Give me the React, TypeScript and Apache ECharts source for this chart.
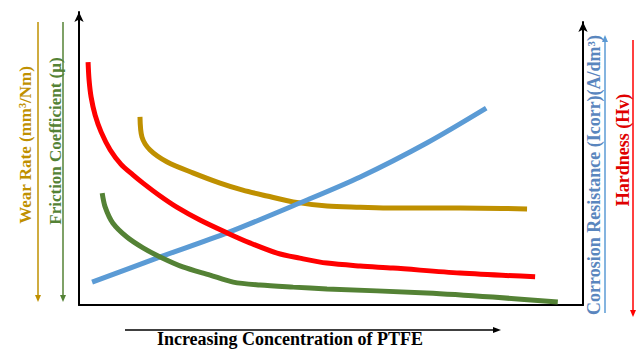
import React, { useEffect, useRef } from "react";
import * as echarts from "echarts";

// Schematic trends (relative units, x = PTFE concentration 0-100, y = property level 0-100)
const hardness: number[][] = [
  [1.8, 82.9], [2.0, 76.8], [2.4, 71.0], [3.2, 64.8], [4.4, 59.0], [6.2, 52.9],
  [8.3, 48.1], [10.7, 44.4], [12.7, 41.6], [16.1, 37.2], [19.4, 33.4], [24.0, 29.0],
  [29.4, 24.6], [33.9, 21.2], [39.3, 17.7], [43.8, 16.0], [49.2, 14.3], [55.8, 13.3],
  [62.3, 12.6], [75.6, 10.9], [90.5, 9.6],
];
const wearRate: number[][] = [
  [12.1, 64.2], [12.5, 57.3], [14.1, 52.9], [17.5, 48.8], [22.6, 45.1], [28.0, 41.6],
  [32.5, 39.2], [37.3, 37.2], [42.5, 35.2], [49.2, 33.8], [55.8, 33.4], [62.3, 33.1],
  [75.6, 33.1], [88.9, 32.8],
];
const friction: number[][] = [
  [4.6, 38.2], [5.2, 33.4], [6.7, 28.0], [9.5, 23.2], [12.7, 19.5], [16.1, 16.4],
  [20.6, 13.0], [26.0, 10.2], [30.6, 7.8], [35.9, 6.8], [42.5, 6.1], [49.2, 5.5],
  [69.0, 4.1], [82.1, 2.7], [95.0, 1.0],
];
const corrosion: number[][] = [
  [2.6, 7.8], [16.1, 16.4], [29.4, 24.6], [43.8, 34.8], [55.8, 43.7],
  [69.0, 55.3], [80.8, 67.2],
];

const labels = {
  wear: "Wear Rate (mm³/Nm)",
  friction: "Friction Coefficient (µ)",
  corrosion: "Corrosion Resistance (Icorr)(A/dm³)",
  hardness: "Hardness (Hv)",
  x: "Increasing Concentration of PTFE",
};

const GOLD = "#BF9000";
const GREEN = "#548235";
const RED = "#FF0000";
const BLUE = "#5B9BD5";
const FAM = "'Liberation Serif', 'Times New Roman', serif";
const FONT17 = `bold 17px ${FAM}`;
const FONT18 = `bold 18px ${FAM}`;

function vArrow(x: number, y1: number, y2: number, color: string, headDown: boolean) {
  const tip = headDown ? y2 : y1;
  const base = headDown ? y2 - 7 : y1 + 7;
  return [
    {
      type: "line",
      shape: { x1: x, y1: headDown ? y1 : base, x2: x, y2: headDown ? base : y2 },
      style: { stroke: color, lineWidth: 1.5 },
    },
    {
      type: "polygon",
      shape: { points: [[x - 3, base], [x + 3, base], [x, tip]] },
      style: { fill: color },
    },
  ];
}

export default function App() {
  const ref = useRef<HTMLDivElement>(null);
  useEffect(() => {
    if (!ref.current) return;
    const chart = echarts.init(ref.current, null, { renderer: "svg" });
    const mk = (name: string, data: number[][], color: string, z: number) => ({
      name,
      type: "line",
      data,
      smooth: 0.3,
      showSymbol: false,
      z,
      lineStyle: { color, width: 5, cap: "butt" },
      itemStyle: { color },
    });
    const axisLineY = {
      show: true, onZero: false, symbol: ["none", "arrow"], symbolSize: [7, 10],
      lineStyle: { color: "#000", width: 2 },
    };
    chart.setOption({
      animation: false,
      backgroundColor: "#ffffff",
      grid: [
        { left: 79, right: 55, top: 12, bottom: 45 },
        { left: 79, right: 55, top: 22, bottom: 45 },
      ],
      xAxis: [
        {
          type: "value", min: 0, max: 100, gridIndex: 0,
          axisLine: { show: true, lineStyle: { color: "#000", width: 2 } },
          axisTick: { show: false }, axisLabel: { show: false }, splitLine: { show: false },
        },
        { type: "value", min: 0, max: 100, gridIndex: 1, show: false },
      ],
      yAxis: [
        {
          type: "value", min: 0, max: 100, gridIndex: 0, position: "left",
          axisLine: axisLineY,
          axisTick: { show: false }, axisLabel: { show: false }, splitLine: { show: false },
        },
        {
          type: "value", min: 0, max: 100, gridIndex: 1, position: "right",
          axisLine: axisLineY,
          axisTick: { show: false }, axisLabel: { show: false }, splitLine: { show: false },
        },
      ],
      series: [
        mk("Wear Rate", wearRate, GOLD, 2),
        mk("Corrosion Resistance", corrosion, BLUE, 3),
        mk("Hardness", hardness, RED, 4),
        mk("Friction Coefficient", friction, GREEN, 5),
      ],
      graphic: [
        ...vArrow(38, 22, 302, GOLD, true),
        ...vArrow(63, 22, 302, GREEN, true),
        ...vArrow(605, 35, 313, BLUE, false),
        ...vArrow(633, 40, 317, RED, true),
        {
          type: "text", x: 25, y: 145, rotation: Math.PI / 2,
          style: { text: labels.wear, font: FONT17, fill: GOLD, align: "center", verticalAlign: "middle" },
        },
        {
          type: "text", x: 55, y: 141, rotation: Math.PI / 2,
          style: { text: labels.friction, font: FONT17, fill: GREEN, align: "center", verticalAlign: "middle" },
        },
        {
          type: "text", x: 594, y: 175, rotation: Math.PI / 2,
          style: { text: labels.corrosion, font: FONT18, fill: "#5A86BE", align: "center", verticalAlign: "middle" },
        },
        {
          type: "text", x: 623, y: 150, rotation: Math.PI / 2,
          style: { text: labels.hardness, font: FONT18, fill: "#E00000", align: "center", verticalAlign: "middle" },
        },
        {
          type: "line",
          shape: { x1: 125, y1: 330, x2: 494, y2: 330 },
          style: { stroke: "#000", lineWidth: 1.5 },
        },
        {
          type: "polygon",
          shape: { points: [[493, 327], [493, 333], [501, 330]] },
          style: { fill: "#000" },
        },
        {
          type: "text", x: 290, y: 339,
          style: { text: labels.x, font: FONT18, fill: "#000", align: "center", verticalAlign: "middle" },
        },
      ],
    });
    return () => chart.dispose();
  }, []);
  return <div ref={ref} style={{ width: 638, height: 350, position: "fixed", left: 0, top: 0 }} />;
}
